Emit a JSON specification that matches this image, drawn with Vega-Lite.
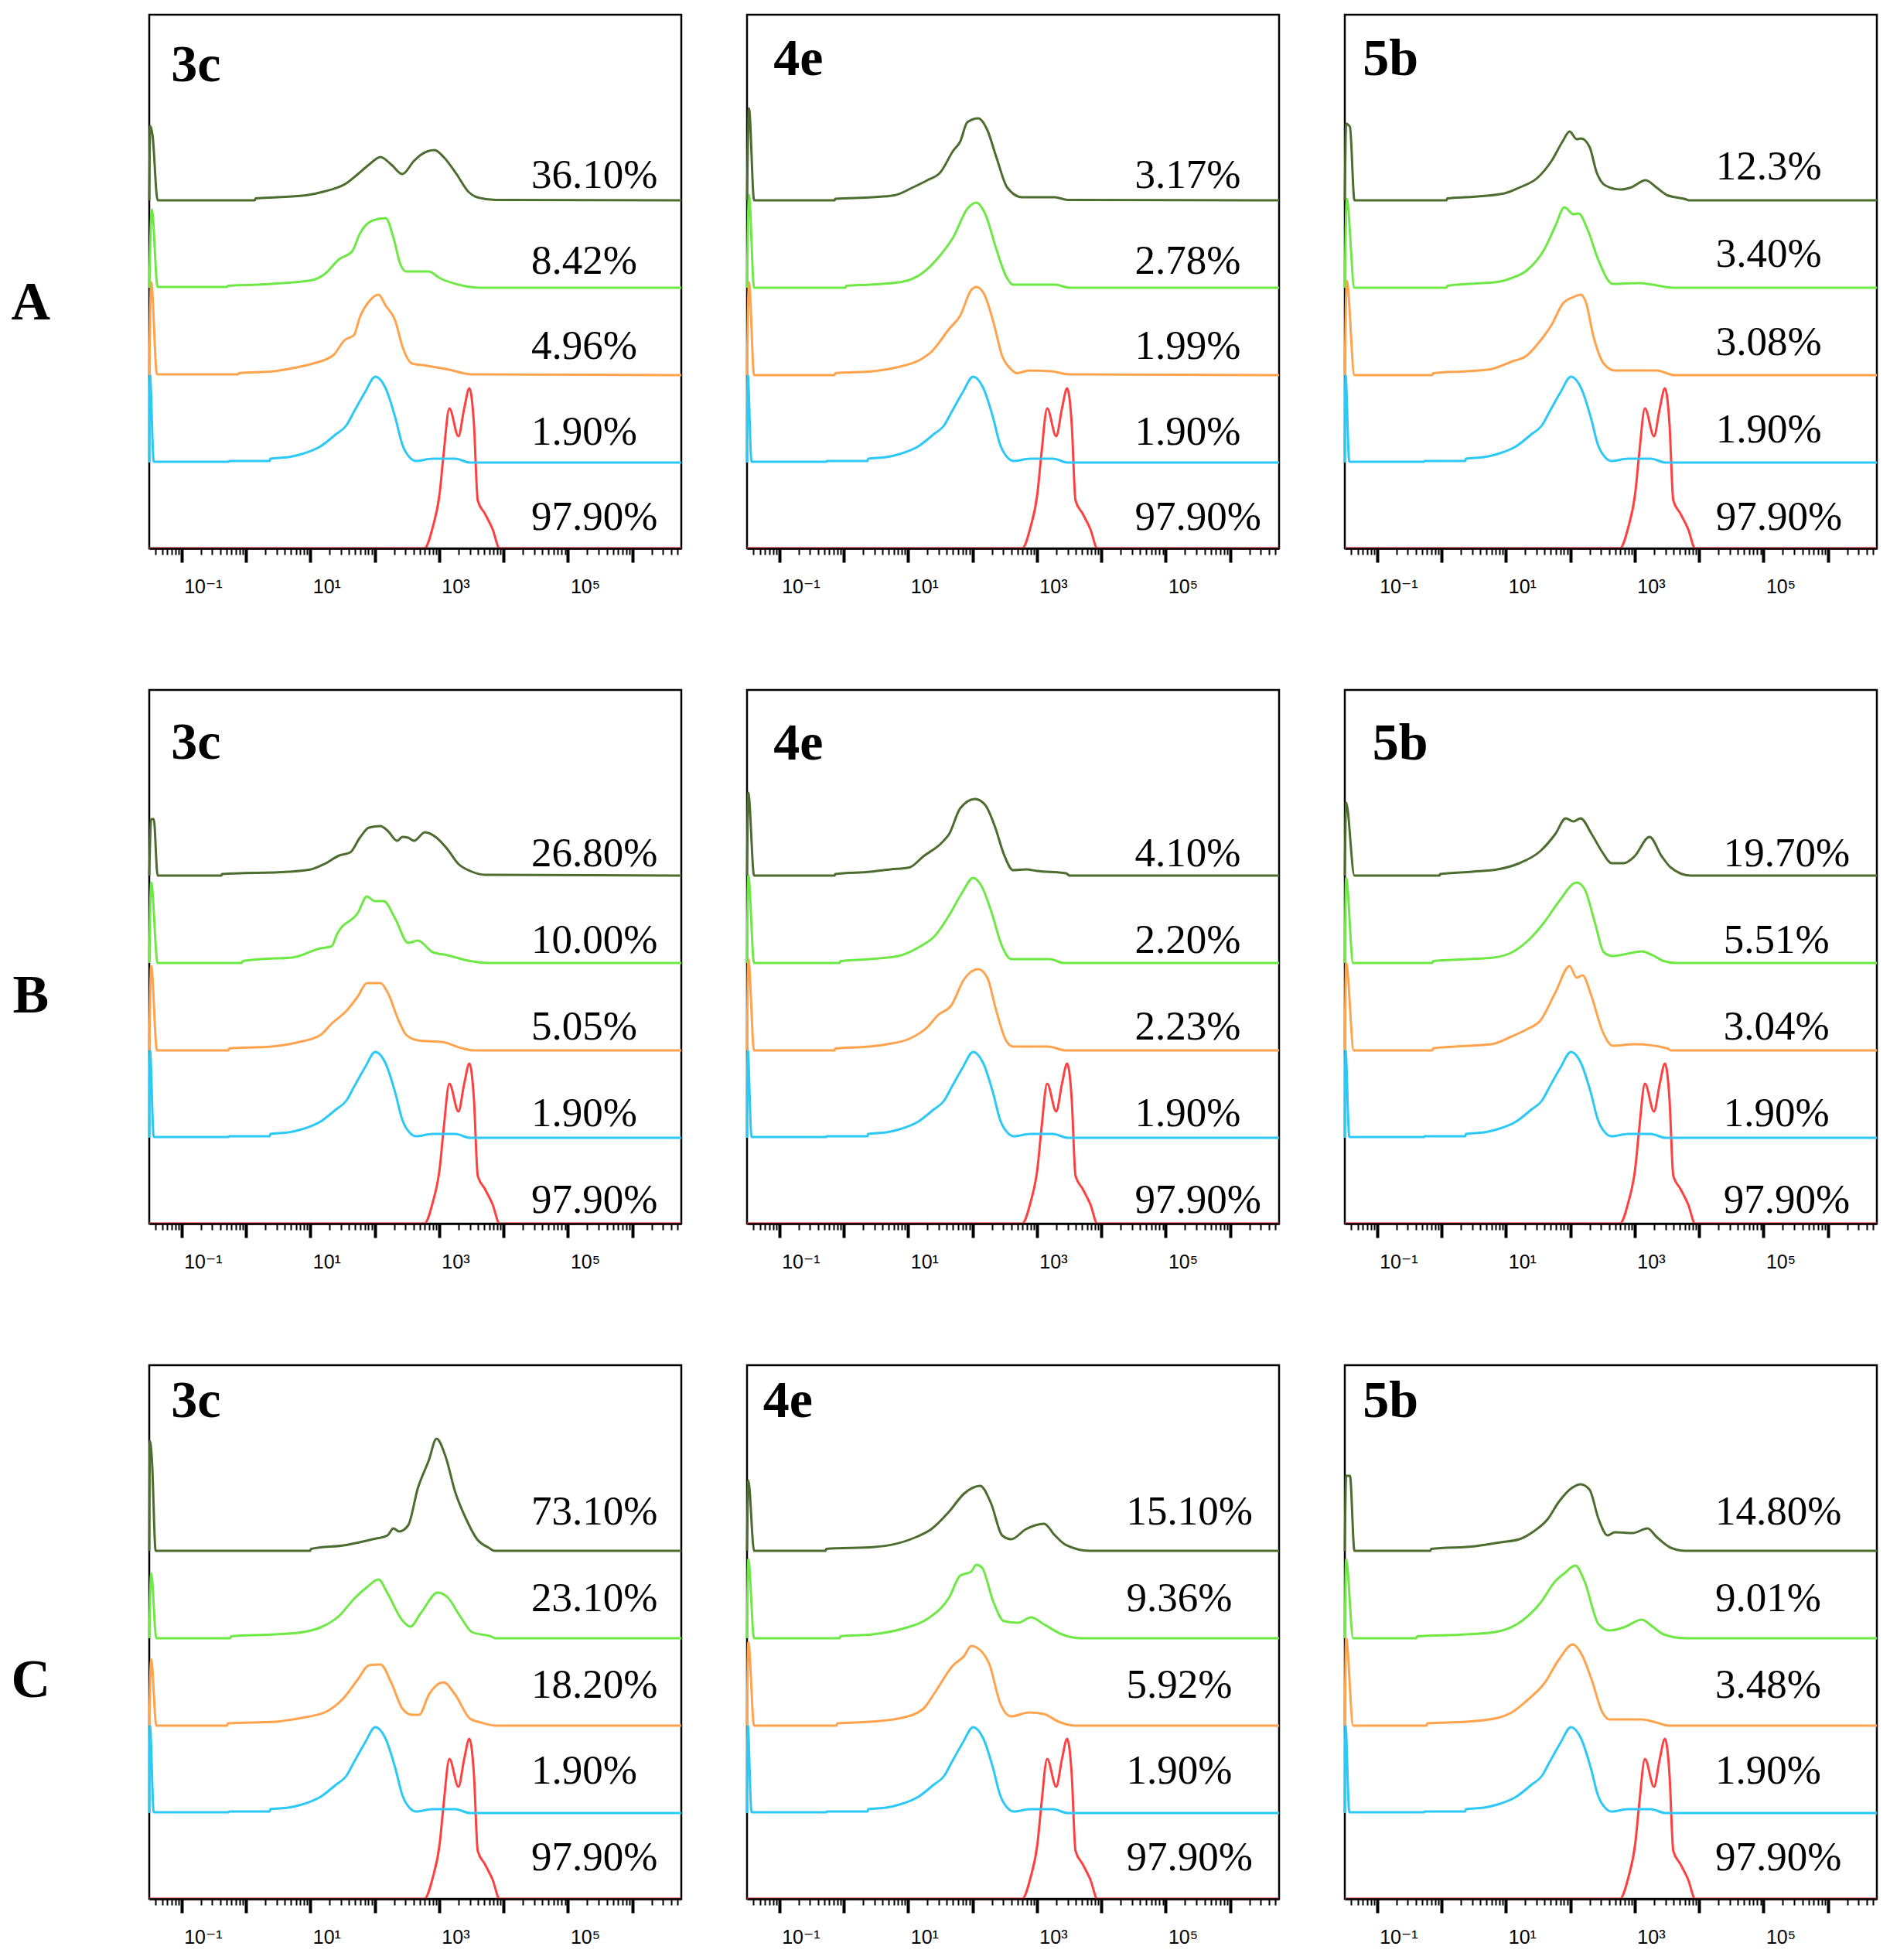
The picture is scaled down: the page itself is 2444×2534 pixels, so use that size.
{
"$schema":"https://vega.github.io/schema/vega-lite/v6.json",
"padding":{"left":13,"top":17,"right":10,"bottom":10},
"background":"white",
"config":{"view":{"stroke":"black","strokeWidth":2.5},"line":{"strokeWidth":3,"strokeJoin":"round","interpolate":"monotone"},"text":{"font":"Liberation Serif","color":"black"}},
"columns":3,
"spacing":{"row":183,"column":85},
"bounds":"flush",
"datasets":{
"control":[
{"series":"blue","logFL":-1.5,"count":0},{"series":"blue","logFL":-1.49,"count":114},{"series":"blue","logFL":-1.43,"count":1},{"series":"blue","logFL":-0.27,"count":1},{"series":"blue","logFL":-0.26,"count":2},{"series":"blue","logFL":0.37,"count":2},{"series":"blue","logFL":0.38,"count":5},{"series":"blue","logFL":0.66,"count":7},{"series":"blue","logFL":0.87,"count":11},{"series":"blue","logFL":1.16,"count":21},{"series":"blue","logFL":1.39,"count":36},{"series":"blue","logFL":1.56,"count":48},{"series":"blue","logFL":1.68,"count":66},{"series":"blue","logFL":1.85,"count":91},{"series":"blue","logFL":2.01,"count":111},{"series":"blue","logFL":2.17,"count":96},{"series":"blue","logFL":2.32,"count":58},{"series":"blue","logFL":2.43,"count":23},{"series":"blue","logFL":2.55,"count":6},{"series":"blue","logFL":2.64,"count":2},{"series":"blue","logFL":2.9,"count":5},{"series":"blue","logFL":3.25,"count":5},{"series":"blue","logFL":3.48,"count":0},{"series":"blue","logFL":6.76,"count":0},
{"series":"red","logFL":-1.5,"count":0},{"series":"red","logFL":2.77,"count":0},{"series":"red","logFL":2.9,"count":27},{"series":"red","logFL":3.01,"count":72},{"series":"red","logFL":3.07,"count":122},{"series":"red","logFL":3.16,"count":181},{"series":"red","logFL":3.3,"count":145},{"series":"red","logFL":3.39,"count":181},{"series":"red","logFL":3.47,"count":207},{"series":"red","logFL":3.54,"count":162},{"series":"red","logFL":3.6,"count":62},{"series":"red","logFL":3.71,"count":45},{"series":"red","logFL":3.83,"count":25},{"series":"red","logFL":3.94,"count":0},{"series":"red","logFL":6.76,"count":0}
],
"A3c":[
{"series":"dgreen","logFL":-1.5,"count":0},{"series":"dgreen","logFL":-1.485,"count":96},{"series":"dgreen","logFL":-1.45,"count":85},{"series":"dgreen","logFL":-1.37,"count":0},{"series":"dgreen","logFL":0.14,"count":0},{"series":"dgreen","logFL":0.15,"count":2.5},{"series":"dgreen","logFL":0.49,"count":4},{"series":"dgreen","logFL":0.93,"count":6.5},{"series":"dgreen","logFL":1.22,"count":11.5},{"series":"dgreen","logFL":1.56,"count":22},{"series":"dgreen","logFL":1.74,"count":34},{"series":"dgreen","logFL":1.91,"count":46},{"series":"dgreen","logFL":2.09,"count":56},{"series":"dgreen","logFL":2.26,"count":46},{"series":"dgreen","logFL":2.43,"count":34},{"series":"dgreen","logFL":2.61,"count":51},{"series":"dgreen","logFL":2.72,"count":59},{"series":"dgreen","logFL":2.93,"count":65},{"series":"dgreen","logFL":3.07,"count":56},{"series":"dgreen","logFL":3.27,"count":34},{"series":"dgreen","logFL":3.45,"count":11.5},{"series":"dgreen","logFL":3.59,"count":4},{"series":"dgreen","logFL":3.88,"count":0.5},{"series":"dgreen","logFL":6.76,"count":0},
{"series":"lgreen","logFL":-1.5,"count":0},{"series":"lgreen","logFL":-1.46,"count":101},{"series":"lgreen","logFL":-1.37,"count":1},{"series":"lgreen","logFL":-0.29,"count":1},{"series":"lgreen","logFL":-0.28,"count":2.5},{"series":"lgreen","logFL":0.17,"count":4},{"series":"lgreen","logFL":0.66,"count":6.5},{"series":"lgreen","logFL":1.04,"count":10},{"series":"lgreen","logFL":1.22,"count":17.5},{"series":"lgreen","logFL":1.45,"count":37},{"series":"lgreen","logFL":1.65,"count":47},{"series":"lgreen","logFL":1.77,"count":70},{"series":"lgreen","logFL":1.97,"count":87},{"series":"lgreen","logFL":2.17,"count":90},{"series":"lgreen","logFL":2.29,"count":65},{"series":"lgreen","logFL":2.4,"count":30},{"series":"lgreen","logFL":2.49,"count":21},{"series":"lgreen","logFL":2.84,"count":21},{"series":"lgreen","logFL":3.01,"count":12.5},{"series":"lgreen","logFL":3.3,"count":4},{"series":"lgreen","logFL":3.65,"count":0},{"series":"lgreen","logFL":6.76,"count":0},
{"series":"orange","logFL":-1.5,"count":0},{"series":"orange","logFL":-1.47,"count":120},{"series":"orange","logFL":-1.38,"count":1},{"series":"orange","logFL":-0.12,"count":1},{"series":"orange","logFL":-0.11,"count":2.5},{"series":"orange","logFL":0.43,"count":5},{"series":"orange","logFL":0.72,"count":9},{"series":"orange","logFL":1.04,"count":15},{"series":"orange","logFL":1.36,"count":26},{"series":"orange","logFL":1.53,"count":45},{"series":"orange","logFL":1.68,"count":52},{"series":"orange","logFL":1.77,"count":75},{"series":"orange","logFL":1.91,"count":95},{"series":"orange","logFL":2.06,"count":104},{"series":"orange","logFL":2.17,"count":90},{"series":"orange","logFL":2.32,"count":70},{"series":"orange","logFL":2.43,"count":37},{"series":"orange","logFL":2.58,"count":15},{"series":"orange","logFL":2.78,"count":12.5},{"series":"orange","logFL":3.13,"count":7.5},{"series":"orange","logFL":3.51,"count":1},{"series":"orange","logFL":6.76,"count":0}
],
"A4e":[
{"series":"dgreen","logFL":-1.5,"count":0},{"series":"dgreen","logFL":-1.47,"count":119},{"series":"dgreen","logFL":-1.39,"count":0},{"series":"dgreen","logFL":-0.14,"count":0},{"series":"dgreen","logFL":-0.13,"count":2},{"series":"dgreen","logFL":0.45,"count":4},{"series":"dgreen","logFL":0.79,"count":6.5},{"series":"dgreen","logFL":1.07,"count":16.5},{"series":"dgreen","logFL":1.3,"count":26},{"series":"dgreen","logFL":1.5,"count":36},{"series":"dgreen","logFL":1.7,"count":64},{"series":"dgreen","logFL":1.81,"count":76},{"series":"dgreen","logFL":1.92,"count":101},{"series":"dgreen","logFL":2.09,"count":106},{"series":"dgreen","logFL":2.23,"count":91},{"series":"dgreen","logFL":2.37,"count":56},{"series":"dgreen","logFL":2.54,"count":16.5},{"series":"dgreen","logFL":2.77,"count":4},{"series":"dgreen","logFL":3.28,"count":4},{"series":"dgreen","logFL":3.48,"count":0.5},{"series":"dgreen","logFL":6.76,"count":0},
{"series":"lgreen","logFL":-1.5,"count":0},{"series":"lgreen","logFL":-1.47,"count":120},{"series":"lgreen","logFL":-1.39,"count":0},{"series":"lgreen","logFL":0.03,"count":0},{"series":"lgreen","logFL":0.04,"count":2.5},{"series":"lgreen","logFL":0.4,"count":4},{"series":"lgreen","logFL":0.9,"count":7.5},{"series":"lgreen","logFL":1.24,"count":20},{"series":"lgreen","logFL":1.5,"count":42},{"series":"lgreen","logFL":1.7,"count":65},{"series":"lgreen","logFL":1.92,"count":102},{"series":"lgreen","logFL":2.06,"count":110},{"series":"lgreen","logFL":2.2,"count":95},{"series":"lgreen","logFL":2.37,"count":50},{"series":"lgreen","logFL":2.52,"count":15},{"series":"lgreen","logFL":2.63,"count":4},{"series":"lgreen","logFL":3.28,"count":4},{"series":"lgreen","logFL":3.51,"count":0},{"series":"lgreen","logFL":6.76,"count":0},
{"series":"orange","logFL":-1.5,"count":0},{"series":"orange","logFL":-1.47,"count":120},{"series":"orange","logFL":-1.39,"count":0},{"series":"orange","logFL":-0.14,"count":0},{"series":"orange","logFL":-0.13,"count":2.5},{"series":"orange","logFL":0.45,"count":5},{"series":"orange","logFL":0.82,"count":10},{"series":"orange","logFL":1.19,"count":20},{"series":"orange","logFL":1.36,"count":30},{"series":"orange","logFL":1.64,"count":60},{"series":"orange","logFL":1.81,"count":77},{"series":"orange","logFL":1.98,"count":110},{"series":"orange","logFL":2.06,"count":114},{"series":"orange","logFL":2.18,"count":105},{"series":"orange","logFL":2.32,"count":70},{"series":"orange","logFL":2.46,"count":25},{"series":"orange","logFL":2.6,"count":7.5},{"series":"orange","logFL":2.69,"count":2.5},{"series":"orange","logFL":2.88,"count":6},{"series":"orange","logFL":3.22,"count":5},{"series":"orange","logFL":3.51,"count":1},{"series":"orange","logFL":6.76,"count":0}
],
"A5b":[
{"series":"dgreen","logFL":-1.5,"count":0},{"series":"dgreen","logFL":-1.48,"count":99},{"series":"dgreen","logFL":-1.42,"count":95},{"series":"dgreen","logFL":-1.35,"count":0},{"series":"dgreen","logFL":0.08,"count":0},{"series":"dgreen","logFL":0.09,"count":2.5},{"series":"dgreen","logFL":0.48,"count":4.5},{"series":"dgreen","logFL":0.98,"count":9},{"series":"dgreen","logFL":1.21,"count":16.5},{"series":"dgreen","logFL":1.49,"count":29},{"series":"dgreen","logFL":1.71,"count":51},{"series":"dgreen","logFL":1.88,"count":76},{"series":"dgreen","logFL":1.99,"count":89},{"series":"dgreen","logFL":2.1,"count":79},{"series":"dgreen","logFL":2.17,"count":80},{"series":"dgreen","logFL":2.3,"count":69},{"series":"dgreen","logFL":2.41,"count":36},{"series":"dgreen","logFL":2.55,"count":19},{"series":"dgreen","logFL":2.78,"count":14},{"series":"dgreen","logFL":2.94,"count":16.5},{"series":"dgreen","logFL":3.17,"count":26},{"series":"dgreen","logFL":3.34,"count":16.5},{"series":"dgreen","logFL":3.51,"count":6.5},{"series":"dgreen","logFL":3.79,"count":1.5},{"series":"dgreen","logFL":3.84,"count":0},{"series":"dgreen","logFL":6.76,"count":0},
{"series":"lgreen","logFL":-1.5,"count":0},{"series":"lgreen","logFL":-1.47,"count":115},{"series":"lgreen","logFL":-1.35,"count":0},{"series":"lgreen","logFL":0.08,"count":0},{"series":"lgreen","logFL":0.09,"count":2.5},{"series":"lgreen","logFL":0.42,"count":5},{"series":"lgreen","logFL":0.87,"count":7.5},{"series":"lgreen","logFL":1.09,"count":12.5},{"series":"lgreen","logFL":1.32,"count":22},{"series":"lgreen","logFL":1.6,"count":50},{"series":"lgreen","logFL":1.77,"count":80},{"series":"lgreen","logFL":1.91,"count":104},{"series":"lgreen","logFL":2.05,"count":95},{"series":"lgreen","logFL":2.13,"count":96},{"series":"lgreen","logFL":2.27,"count":75},{"series":"lgreen","logFL":2.44,"count":35},{"series":"lgreen","logFL":2.66,"count":5},{"series":"lgreen","logFL":3.06,"count":6},{"series":"lgreen","logFL":3.28,"count":4},{"series":"lgreen","logFL":3.59,"count":0},{"series":"lgreen","logFL":6.76,"count":0},
{"series":"orange","logFL":-1.5,"count":0},{"series":"orange","logFL":-1.47,"count":122},{"series":"orange","logFL":-1.35,"count":0},{"series":"orange","logFL":-0.14,"count":0},{"series":"orange","logFL":-0.13,"count":2.5},{"series":"orange","logFL":0.39,"count":5},{"series":"orange","logFL":0.76,"count":7.5},{"series":"orange","logFL":1.09,"count":17.5},{"series":"orange","logFL":1.32,"count":25},{"series":"orange","logFL":1.54,"count":45},{"series":"orange","logFL":1.71,"count":65},{"series":"orange","logFL":1.88,"count":92},{"series":"orange","logFL":2.05,"count":101},{"series":"orange","logFL":2.16,"count":104},{"series":"orange","logFL":2.24,"count":95},{"series":"orange","logFL":2.36,"count":50},{"series":"orange","logFL":2.52,"count":15},{"series":"orange","logFL":2.69,"count":6},{"series":"orange","logFL":3.34,"count":6},{"series":"orange","logFL":3.62,"count":0},{"series":"orange","logFL":6.76,"count":0}
],
"B3c":[
{"series":"dgreen","logFL":-1.5,"count":0},{"series":"dgreen","logFL":-1.47,"count":73},{"series":"dgreen","logFL":-1.43,"count":73},{"series":"dgreen","logFL":-1.37,"count":0},{"series":"dgreen","logFL":-0.38,"count":0},{"series":"dgreen","logFL":-0.37,"count":2},{"series":"dgreen","logFL":0.66,"count":5},{"series":"dgreen","logFL":1.01,"count":8},{"series":"dgreen","logFL":1.22,"count":15},{"series":"dgreen","logFL":1.45,"count":26},{"series":"dgreen","logFL":1.62,"count":30},{"series":"dgreen","logFL":1.77,"count":49},{"series":"dgreen","logFL":1.91,"count":62},{"series":"dgreen","logFL":2.09,"count":64},{"series":"dgreen","logFL":2.2,"count":58},{"series":"dgreen","logFL":2.35,"count":45},{"series":"dgreen","logFL":2.43,"count":50},{"series":"dgreen","logFL":2.52,"count":49},{"series":"dgreen","logFL":2.61,"count":45},{"series":"dgreen","logFL":2.78,"count":56},{"series":"dgreen","logFL":2.96,"count":49},{"series":"dgreen","logFL":3.13,"count":34},{"series":"dgreen","logFL":3.3,"count":15},{"series":"dgreen","logFL":3.48,"count":6},{"series":"dgreen","logFL":3.71,"count":1},{"series":"dgreen","logFL":6.76,"count":0},
{"series":"lgreen","logFL":-1.5,"count":0},{"series":"lgreen","logFL":-1.47,"count":104},{"series":"lgreen","logFL":-1.37,"count":0},{"series":"lgreen","logFL":-0.06,"count":0},{"series":"lgreen","logFL":-0.05,"count":2.5},{"series":"lgreen","logFL":0.23,"count":5},{"series":"lgreen","logFL":0.72,"count":7},{"series":"lgreen","logFL":1.16,"count":19},{"series":"lgreen","logFL":1.33,"count":21.5},{"series":"lgreen","logFL":1.42,"count":38},{"series":"lgreen","logFL":1.74,"count":65},{"series":"lgreen","logFL":1.88,"count":86},{"series":"lgreen","logFL":2.0,"count":80},{"series":"lgreen","logFL":2.14,"count":80},{"series":"lgreen","logFL":2.32,"count":57},{"series":"lgreen","logFL":2.52,"count":26},{"series":"lgreen","logFL":2.67,"count":29},{"series":"lgreen","logFL":2.9,"count":14},{"series":"lgreen","logFL":3.13,"count":10},{"series":"lgreen","logFL":3.48,"count":2.5},{"series":"lgreen","logFL":3.77,"count":0},{"series":"lgreen","logFL":6.76,"count":0},
{"series":"orange","logFL":-1.5,"count":0},{"series":"orange","logFL":-1.47,"count":109},{"series":"orange","logFL":-1.38,"count":0},{"series":"orange","logFL":-0.27,"count":0},{"series":"orange","logFL":-0.26,"count":2.5},{"series":"orange","logFL":0.4,"count":5},{"series":"orange","logFL":0.81,"count":10.5},{"series":"orange","logFL":1.16,"count":20},{"series":"orange","logFL":1.33,"count":34.5},{"series":"orange","logFL":1.56,"count":51},{"series":"orange","logFL":1.74,"count":70},{"series":"orange","logFL":1.88,"count":87},{"series":"orange","logFL":2.09,"count":87},{"series":"orange","logFL":2.2,"count":75},{"series":"orange","logFL":2.38,"count":37},{"series":"orange","logFL":2.49,"count":20},{"series":"orange","logFL":2.67,"count":13},{"series":"orange","logFL":3.07,"count":10.5},{"series":"orange","logFL":3.33,"count":3.4},{"series":"orange","logFL":3.54,"count":0},{"series":"orange","logFL":6.76,"count":0}
],
"B4e":[
{"series":"dgreen","logFL":-1.5,"count":0},{"series":"dgreen","logFL":-1.48,"count":107},{"series":"dgreen","logFL":-1.39,"count":0},{"series":"dgreen","logFL":-0.14,"count":0},{"series":"dgreen","logFL":-0.13,"count":2},{"series":"dgreen","logFL":0.42,"count":5},{"series":"dgreen","logFL":0.73,"count":8},{"series":"dgreen","logFL":1.02,"count":10.5},{"series":"dgreen","logFL":1.24,"count":25},{"series":"dgreen","logFL":1.53,"count":43},{"series":"dgreen","logFL":1.64,"count":54},{"series":"dgreen","logFL":1.81,"count":87},{"series":"dgreen","logFL":2.04,"count":99},{"series":"dgreen","logFL":2.2,"count":91},{"series":"dgreen","logFL":2.35,"count":63},{"series":"dgreen","logFL":2.49,"count":27},{"series":"dgreen","logFL":2.63,"count":7},{"series":"dgreen","logFL":2.83,"count":8},{"series":"dgreen","logFL":3.0,"count":6},{"series":"dgreen","logFL":3.45,"count":3},{"series":"dgreen","logFL":3.51,"count":0},{"series":"dgreen","logFL":6.76,"count":0},
{"series":"lgreen","logFL":-1.5,"count":0},{"series":"lgreen","logFL":-1.48,"count":113},{"series":"lgreen","logFL":-1.39,"count":0},{"series":"lgreen","logFL":-0.06,"count":0},{"series":"lgreen","logFL":-0.05,"count":2.5},{"series":"lgreen","logFL":0.4,"count":5},{"series":"lgreen","logFL":0.85,"count":9},{"series":"lgreen","logFL":1.19,"count":21.5},{"series":"lgreen","logFL":1.41,"count":34.5},{"series":"lgreen","logFL":1.64,"count":62},{"series":"lgreen","logFL":1.84,"count":91},{"series":"lgreen","logFL":2.01,"count":110},{"series":"lgreen","logFL":2.15,"count":98},{"series":"lgreen","logFL":2.29,"count":67},{"series":"lgreen","logFL":2.46,"count":21.5},{"series":"lgreen","logFL":2.6,"count":5},{"series":"lgreen","logFL":3.2,"count":5},{"series":"lgreen","logFL":3.42,"count":0},{"series":"lgreen","logFL":6.76,"count":0},
{"series":"orange","logFL":-1.5,"count":0},{"series":"orange","logFL":-1.48,"count":118},{"series":"orange","logFL":-1.39,"count":0},{"series":"orange","logFL":-0.14,"count":0},{"series":"orange","logFL":-0.13,"count":2.5},{"series":"orange","logFL":0.4,"count":5},{"series":"orange","logFL":0.68,"count":8},{"series":"orange","logFL":1.02,"count":15},{"series":"orange","logFL":1.3,"count":30},{"series":"orange","logFL":1.47,"count":46},{"series":"orange","logFL":1.67,"count":58},{"series":"orange","logFL":1.87,"count":92},{"series":"orange","logFL":2.09,"count":105},{"series":"orange","logFL":2.23,"count":94},{"series":"orange","logFL":2.37,"count":51},{"series":"orange","logFL":2.52,"count":13},{"series":"orange","logFL":2.63,"count":5},{"series":"orange","logFL":3.17,"count":5},{"series":"orange","logFL":3.45,"count":0},{"series":"orange","logFL":6.76,"count":0}
],
"B5b":[
{"series":"dgreen","logFL":-1.5,"count":0},{"series":"dgreen","logFL":-1.48,"count":94},{"series":"dgreen","logFL":-1.35,"count":0},{"series":"dgreen","logFL":-0.03,"count":0},{"series":"dgreen","logFL":-0.02,"count":2},{"series":"dgreen","logFL":0.48,"count":5},{"series":"dgreen","logFL":0.87,"count":8},{"series":"dgreen","logFL":1.21,"count":16},{"series":"dgreen","logFL":1.54,"count":32},{"series":"dgreen","logFL":1.77,"count":54},{"series":"dgreen","logFL":1.93,"count":74},{"series":"dgreen","logFL":2.05,"count":70},{"series":"dgreen","logFL":2.16,"count":74},{"series":"dgreen","logFL":2.33,"count":54},{"series":"dgreen","logFL":2.5,"count":30},{"series":"dgreen","logFL":2.64,"count":16},{"series":"dgreen","logFL":2.83,"count":16},{"series":"dgreen","logFL":3.0,"count":25},{"series":"dgreen","logFL":3.23,"count":50},{"series":"dgreen","logFL":3.42,"count":25},{"series":"dgreen","logFL":3.56,"count":10.5},{"series":"dgreen","logFL":3.87,"count":0},{"series":"dgreen","logFL":6.76,"count":0},
{"series":"lgreen","logFL":-1.5,"count":0},{"series":"lgreen","logFL":-1.48,"count":110},{"series":"lgreen","logFL":-1.37,"count":0},{"series":"lgreen","logFL":-0.14,"count":0},{"series":"lgreen","logFL":-0.13,"count":2.5},{"series":"lgreen","logFL":0.42,"count":5},{"series":"lgreen","logFL":0.81,"count":7},{"series":"lgreen","logFL":1.09,"count":13.5},{"series":"lgreen","logFL":1.37,"count":31},{"series":"lgreen","logFL":1.6,"count":53},{"series":"lgreen","logFL":1.82,"count":79},{"series":"lgreen","logFL":2.1,"count":104},{"series":"lgreen","logFL":2.22,"count":96},{"series":"lgreen","logFL":2.38,"count":53},{"series":"lgreen","logFL":2.52,"count":14},{"series":"lgreen","logFL":2.66,"count":9},{"series":"lgreen","logFL":2.89,"count":12},{"series":"lgreen","logFL":3.11,"count":15},{"series":"lgreen","logFL":3.28,"count":10},{"series":"lgreen","logFL":3.45,"count":2.5},{"series":"lgreen","logFL":3.65,"count":0},{"series":"lgreen","logFL":6.76,"count":0},
{"series":"orange","logFL":-1.5,"count":0},{"series":"orange","logFL":-1.48,"count":113},{"series":"orange","logFL":-1.36,"count":0},{"series":"orange","logFL":-0.14,"count":0},{"series":"orange","logFL":-0.13,"count":2.5},{"series":"orange","logFL":0.22,"count":5},{"series":"orange","logFL":0.78,"count":8},{"series":"orange","logFL":1.09,"count":18},{"series":"orange","logFL":1.32,"count":27},{"series":"orange","logFL":1.54,"count":39},{"series":"orange","logFL":1.77,"count":75},{"series":"orange","logFL":1.99,"count":109},{"series":"orange","logFL":2.1,"count":94},{"series":"orange","logFL":2.19,"count":97},{"series":"orange","logFL":2.33,"count":70},{"series":"orange","logFL":2.5,"count":25},{"series":"orange","logFL":2.66,"count":6},{"series":"orange","logFL":3.0,"count":8},{"series":"orange","logFL":3.51,"count":2.5},{"series":"orange","logFL":3.56,"count":0},{"series":"orange","logFL":6.76,"count":0}
],
"C3c":[
{"series":"dgreen","logFL":-1.5,"count":0},{"series":"dgreen","logFL":-1.49,"count":142},{"series":"dgreen","logFL":-1.46,"count":120},{"series":"dgreen","logFL":-1.4,"count":0},{"series":"dgreen","logFL":1.0,"count":0},{"series":"dgreen","logFL":1.01,"count":2.5},{"series":"dgreen","logFL":1.56,"count":7.6},{"series":"dgreen","logFL":1.97,"count":15},{"series":"dgreen","logFL":2.2,"count":20},{"series":"dgreen","logFL":2.29,"count":29},{"series":"dgreen","logFL":2.38,"count":25},{"series":"dgreen","logFL":2.52,"count":33},{"series":"dgreen","logFL":2.67,"count":81},{"series":"dgreen","logFL":2.84,"count":117},{"series":"dgreen","logFL":2.96,"count":145},{"series":"dgreen","logFL":3.1,"count":122},{"series":"dgreen","logFL":3.25,"count":76},{"series":"dgreen","logFL":3.42,"count":41},{"series":"dgreen","logFL":3.59,"count":15},{"series":"dgreen","logFL":3.77,"count":4},{"series":"dgreen","logFL":3.86,"count":0},{"series":"dgreen","logFL":6.76,"count":0},
{"series":"lgreen","logFL":-1.5,"count":0},{"series":"lgreen","logFL":-1.47,"count":84},{"series":"lgreen","logFL":-1.39,"count":0},{"series":"lgreen","logFL":-0.24,"count":0},{"series":"lgreen","logFL":-0.23,"count":2.5},{"series":"lgreen","logFL":0.46,"count":5},{"series":"lgreen","logFL":0.93,"count":8.6},{"series":"lgreen","logFL":1.16,"count":14},{"series":"lgreen","logFL":1.45,"count":29},{"series":"lgreen","logFL":1.68,"count":51},{"series":"lgreen","logFL":1.88,"count":66},{"series":"lgreen","logFL":2.06,"count":76},{"series":"lgreen","logFL":2.2,"count":58},{"series":"lgreen","logFL":2.43,"count":23},{"series":"lgreen","logFL":2.55,"count":15},{"series":"lgreen","logFL":2.72,"count":33},{"series":"lgreen","logFL":2.98,"count":59},{"series":"lgreen","logFL":3.13,"count":53},{"series":"lgreen","logFL":3.33,"count":28},{"series":"lgreen","logFL":3.51,"count":8},{"series":"lgreen","logFL":3.83,"count":1.5},{"series":"lgreen","logFL":3.86,"count":0},{"series":"lgreen","logFL":6.76,"count":0},
{"series":"orange","logFL":-1.5,"count":0},{"series":"orange","logFL":-1.47,"count":86},{"series":"orange","logFL":-1.39,"count":0},{"series":"orange","logFL":-0.29,"count":0},{"series":"orange","logFL":-0.28,"count":3},{"series":"orange","logFL":0.46,"count":5},{"series":"orange","logFL":0.69,"count":7.6},{"series":"orange","logFL":0.98,"count":11.7},{"series":"orange","logFL":1.27,"count":19},{"series":"orange","logFL":1.51,"count":35},{"series":"orange","logFL":1.74,"count":60},{"series":"orange","logFL":1.91,"count":78},{"series":"orange","logFL":2.09,"count":79},{"series":"orange","logFL":2.26,"count":55},{"series":"orange","logFL":2.43,"count":22},{"series":"orange","logFL":2.58,"count":14},{"series":"orange","logFL":2.69,"count":14},{"series":"orange","logFL":2.84,"count":40},{"series":"orange","logFL":3.07,"count":56},{"series":"orange","logFL":3.25,"count":40},{"series":"orange","logFL":3.48,"count":9},{"series":"orange","logFL":3.65,"count":4},{"series":"orange","logFL":3.88,"count":0},{"series":"orange","logFL":6.76,"count":0}
],
"C4e":[
{"series":"dgreen","logFL":-1.5,"count":0},{"series":"dgreen","logFL":-1.48,"count":91},{"series":"dgreen","logFL":-1.39,"count":0},{"series":"dgreen","logFL":-0.28,"count":0},{"series":"dgreen","logFL":-0.27,"count":2.5},{"series":"dgreen","logFL":0.48,"count":5},{"series":"dgreen","logFL":0.73,"count":7.6},{"series":"dgreen","logFL":1.13,"count":18},{"series":"dgreen","logFL":1.36,"count":28},{"series":"dgreen","logFL":1.64,"count":51},{"series":"dgreen","logFL":1.87,"count":74},{"series":"dgreen","logFL":2.12,"count":84},{"series":"dgreen","logFL":2.29,"count":61},{"series":"dgreen","logFL":2.46,"count":20},{"series":"dgreen","logFL":2.6,"count":15},{"series":"dgreen","logFL":2.83,"count":28},{"series":"dgreen","logFL":3.11,"count":35},{"series":"dgreen","logFL":3.28,"count":20},{"series":"dgreen","logFL":3.45,"count":7.6},{"series":"dgreen","logFL":3.82,"count":0},{"series":"dgreen","logFL":6.76,"count":0},
{"series":"lgreen","logFL":-1.5,"count":0},{"series":"lgreen","logFL":-1.48,"count":102},{"series":"lgreen","logFL":-1.39,"count":0},{"series":"lgreen","logFL":-0.06,"count":0},{"series":"lgreen","logFL":-0.05,"count":2.5},{"series":"lgreen","logFL":0.45,"count":5},{"series":"lgreen","logFL":0.9,"count":12},{"series":"lgreen","logFL":1.3,"count":25},{"series":"lgreen","logFL":1.64,"count":53},{"series":"lgreen","logFL":1.81,"count":81},{"series":"lgreen","logFL":1.98,"count":86},{"series":"lgreen","logFL":2.06,"count":95},{"series":"lgreen","logFL":2.15,"count":91},{"series":"lgreen","logFL":2.32,"count":48},{"series":"lgreen","logFL":2.49,"count":22},{"series":"lgreen","logFL":2.71,"count":20},{"series":"lgreen","logFL":2.91,"count":27},{"series":"lgreen","logFL":3.11,"count":18},{"series":"lgreen","logFL":3.39,"count":5},{"series":"lgreen","logFL":3.68,"count":0},{"series":"lgreen","logFL":6.76,"count":0},
{"series":"orange","logFL":-1.5,"count":0},{"series":"orange","logFL":-1.48,"count":108},{"series":"orange","logFL":-1.39,"count":0},{"series":"orange","logFL":-0.11,"count":0},{"series":"orange","logFL":-0.1,"count":3},{"series":"orange","logFL":0.4,"count":5},{"series":"orange","logFL":0.9,"count":10},{"series":"orange","logFL":1.24,"count":22},{"series":"orange","logFL":1.41,"count":42},{"series":"orange","logFL":1.7,"count":78},{"series":"orange","logFL":1.87,"count":90},{"series":"orange","logFL":1.98,"count":103},{"series":"orange","logFL":2.15,"count":95},{"series":"orange","logFL":2.26,"count":80},{"series":"orange","logFL":2.43,"count":29},{"series":"orange","logFL":2.6,"count":12},{"series":"orange","logFL":2.88,"count":17},{"series":"orange","logFL":3.11,"count":15},{"series":"orange","logFL":3.34,"count":5},{"series":"orange","logFL":3.59,"count":0},{"series":"orange","logFL":6.76,"count":0}
],
"C5b":[
{"series":"dgreen","logFL":-1.5,"count":0},{"series":"dgreen","logFL":-1.48,"count":97},{"series":"dgreen","logFL":-1.42,"count":97},{"series":"dgreen","logFL":-1.35,"count":0},{"series":"dgreen","logFL":-0.17,"count":0},{"series":"dgreen","logFL":-0.16,"count":2.5},{"series":"dgreen","logFL":0.53,"count":6},{"series":"dgreen","logFL":0.92,"count":11},{"series":"dgreen","logFL":1.21,"count":15},{"series":"dgreen","logFL":1.43,"count":25},{"series":"dgreen","logFL":1.65,"count":41},{"series":"dgreen","logFL":1.82,"count":63},{"series":"dgreen","logFL":2.02,"count":81},{"series":"dgreen","logFL":2.16,"count":86},{"series":"dgreen","logFL":2.3,"count":79},{"series":"dgreen","logFL":2.44,"count":41},{"series":"dgreen","logFL":2.58,"count":20},{"series":"dgreen","logFL":2.69,"count":24},{"series":"dgreen","logFL":2.97,"count":23},{"series":"dgreen","logFL":3.2,"count":29},{"series":"dgreen","logFL":3.34,"count":18},{"series":"dgreen","logFL":3.56,"count":4},{"series":"dgreen","logFL":3.79,"count":0},{"series":"dgreen","logFL":6.76,"count":0},
{"series":"lgreen","logFL":-1.5,"count":0},{"series":"lgreen","logFL":-1.48,"count":102},{"series":"lgreen","logFL":-1.37,"count":0},{"series":"lgreen","logFL":-0.39,"count":0},{"series":"lgreen","logFL":-0.38,"count":2.5},{"series":"lgreen","logFL":0.39,"count":5},{"series":"lgreen","logFL":0.87,"count":8.6},{"series":"lgreen","logFL":1.26,"count":23},{"series":"lgreen","logFL":1.54,"count":46},{"series":"lgreen","logFL":1.77,"count":74},{"series":"lgreen","logFL":1.91,"count":84},{"series":"lgreen","logFL":2.08,"count":94},{"series":"lgreen","logFL":2.22,"count":74},{"series":"lgreen","logFL":2.44,"count":18},{"series":"lgreen","logFL":2.61,"count":10},{"series":"lgreen","logFL":2.83,"count":14},{"series":"lgreen","logFL":3.11,"count":24},{"series":"lgreen","logFL":3.28,"count":15},{"series":"lgreen","logFL":3.45,"count":5},{"series":"lgreen","logFL":3.79,"count":0},{"series":"lgreen","logFL":6.76,"count":0},
{"series":"orange","logFL":-1.5,"count":0},{"series":"orange","logFL":-1.48,"count":113},{"series":"orange","logFL":-1.37,"count":0},{"series":"orange","logFL":-0.23,"count":0},{"series":"orange","logFL":-0.22,"count":3},{"series":"orange","logFL":0.39,"count":5},{"series":"orange","logFL":0.87,"count":10},{"series":"orange","logFL":1.09,"count":17},{"series":"orange","logFL":1.32,"count":32},{"series":"orange","logFL":1.6,"count":55},{"series":"orange","logFL":1.82,"count":85},{"series":"orange","logFL":2.04,"count":105},{"series":"orange","logFL":2.19,"count":90},{"series":"orange","logFL":2.33,"count":60},{"series":"orange","logFL":2.5,"count":17},{"series":"orange","logFL":2.61,"count":8},{"series":"orange","logFL":3.11,"count":8},{"series":"orange","logFL":3.34,"count":4},{"series":"orange","logFL":3.53,"count":0},{"series":"orange","logFL":6.76,"count":0}
],
"labels":[
{"panel":"A3c","row":"A","cmpd":"3c","series":"dgreen","pct":"36.10%"},{"panel":"A3c","row":"A","cmpd":"3c","series":"lgreen","pct":"8.42%"},{"panel":"A3c","row":"A","cmpd":"3c","series":"orange","pct":"4.96%"},{"panel":"A3c","row":"A","cmpd":"3c","series":"blue","pct":"1.90%"},{"panel":"A3c","row":"A","cmpd":"3c","series":"red","pct":"97.90%"},
{"panel":"A4e","row":"A","cmpd":"4e","series":"dgreen","pct":"3.17%"},{"panel":"A4e","row":"A","cmpd":"4e","series":"lgreen","pct":"2.78%"},{"panel":"A4e","row":"A","cmpd":"4e","series":"orange","pct":"1.99%"},{"panel":"A4e","row":"A","cmpd":"4e","series":"blue","pct":"1.90%"},{"panel":"A4e","row":"A","cmpd":"4e","series":"red","pct":"97.90%"},
{"panel":"A5b","row":"A","cmpd":"5b","series":"dgreen","pct":"12.3%"},{"panel":"A5b","row":"A","cmpd":"5b","series":"lgreen","pct":"3.40%"},{"panel":"A5b","row":"A","cmpd":"5b","series":"orange","pct":"3.08%"},{"panel":"A5b","row":"A","cmpd":"5b","series":"blue","pct":"1.90%"},{"panel":"A5b","row":"A","cmpd":"5b","series":"red","pct":"97.90%"},
{"panel":"B3c","row":"B","cmpd":"3c","series":"dgreen","pct":"26.80%"},{"panel":"B3c","row":"B","cmpd":"3c","series":"lgreen","pct":"10.00%"},{"panel":"B3c","row":"B","cmpd":"3c","series":"orange","pct":"5.05%"},{"panel":"B3c","row":"B","cmpd":"3c","series":"blue","pct":"1.90%"},{"panel":"B3c","row":"B","cmpd":"3c","series":"red","pct":"97.90%"},
{"panel":"B4e","row":"B","cmpd":"4e","series":"dgreen","pct":"4.10%"},{"panel":"B4e","row":"B","cmpd":"4e","series":"lgreen","pct":"2.20%"},{"panel":"B4e","row":"B","cmpd":"4e","series":"orange","pct":"2.23%"},{"panel":"B4e","row":"B","cmpd":"4e","series":"blue","pct":"1.90%"},{"panel":"B4e","row":"B","cmpd":"4e","series":"red","pct":"97.90%"},
{"panel":"B5b","row":"B","cmpd":"5b","series":"dgreen","pct":"19.70%"},{"panel":"B5b","row":"B","cmpd":"5b","series":"lgreen","pct":"5.51%"},{"panel":"B5b","row":"B","cmpd":"5b","series":"orange","pct":"3.04%"},{"panel":"B5b","row":"B","cmpd":"5b","series":"blue","pct":"1.90%"},{"panel":"B5b","row":"B","cmpd":"5b","series":"red","pct":"97.90%"},
{"panel":"C3c","row":"C","cmpd":"3c","series":"dgreen","pct":"73.10%"},{"panel":"C3c","row":"C","cmpd":"3c","series":"lgreen","pct":"23.10%"},{"panel":"C3c","row":"C","cmpd":"3c","series":"orange","pct":"18.20%"},{"panel":"C3c","row":"C","cmpd":"3c","series":"blue","pct":"1.90%"},{"panel":"C3c","row":"C","cmpd":"3c","series":"red","pct":"97.90%"},
{"panel":"C4e","row":"C","cmpd":"4e","series":"dgreen","pct":"15.10%"},{"panel":"C4e","row":"C","cmpd":"4e","series":"lgreen","pct":"9.36%"},{"panel":"C4e","row":"C","cmpd":"4e","series":"orange","pct":"5.92%"},{"panel":"C4e","row":"C","cmpd":"4e","series":"blue","pct":"1.90%"},{"panel":"C4e","row":"C","cmpd":"4e","series":"red","pct":"97.90%"},
{"panel":"C5b","row":"C","cmpd":"5b","series":"dgreen","pct":"14.80%"},{"panel":"C5b","row":"C","cmpd":"5b","series":"lgreen","pct":"9.01%"},{"panel":"C5b","row":"C","cmpd":"5b","series":"orange","pct":"3.48%"},{"panel":"C5b","row":"C","cmpd":"5b","series":"blue","pct":"1.90%"},{"panel":"C5b","row":"C","cmpd":"5b","series":"red","pct":"97.90%"}
]
},
"concat":[
{"width":688,"height":690,"resolve":{"scale":{"y":"independent"},"axis":{"x":"independent"}},"layer":[
{"data":{"name":"control"},"transform":[{"filter":"datum.series=='red'"}],"mark":{"type":"line","color":"#ff4040"},"encoding":{"x":{"field":"logFL","type":"quantitative","scale":{"domain":[-1.5,6.76],"nice":false,"zero":false},"axis":{"title":null,"orient":"bottom","zindex":1,"grid":false,"labels":false,"domainColor":"black","domainWidth":2.5,"tickColor":"black","tickSize":8,"tickWidth":2,"values":[-1.398,-1.301,-1.222,-1.155,-1.097,-1.046,-0.699,-0.523,-0.398,-0.301,-0.222,-0.155,-0.097,-0.046,0.301,0.477,0.602,0.699,0.778,0.845,0.903,0.954,1.301,1.477,1.602,1.699,1.778,1.845,1.903,1.954,2.301,2.477,2.602,2.699,2.778,2.845,2.903,2.954,3.301,3.477,3.602,3.699,3.778,3.845,3.903,3.954,4.301,4.477,4.602,4.699,4.778,4.845,4.903,4.954,5.301,5.477,5.602,5.699,5.778,5.845,5.903,5.954,6.301,6.477,6.602,6.699]}},"y":{"field":"count","type":"quantitative","scale":{"domain":[0,690],"nice":false,"zero":false},"axis":null}}},
{"data":{"name":"control"},"transform":[{"filter":"datum.series=='blue'"}],"mark":{"type":"line","color":"#2cc8f6"},"encoding":{"x":{"field":"logFL","type":"quantitative","axis":{"title":null,"orient":"bottom","zindex":1,"grid":false,"domain":false,"tickColor":"black","tickSize":18,"tickWidth":4,"values":[-1,0,1,2,3,4,5,6],"labelExpr":"datum.value==-1?'10⁻¹':datum.value==1?'10¹':datum.value==3?'10³':datum.value==5?'10⁵':''","labelFont":"Liberation Sans Narrow, Liberation Sans, DejaVu Sans","labelFontSize":25,"labelColor":"black","labelAlign":"left","labelBaseline":"alphabetic","labelPadding":39,"labelOffset":3,"labelOverlap":false,"labelFlush":false,"labelBound":false}},"y":{"field":"count","type":"quantitative","scale":{"domain":[-111,579],"nice":false,"zero":false},"axis":null}}},
{"data":{"name":"A3c"},"transform":[{"filter":"datum.series=='orange'"}],"mark":{"type":"line","color":"#ffa34d"},"encoding":{"x":{"field":"logFL","type":"quantitative","axis":null},"y":{"field":"count","type":"quantitative","scale":{"domain":[-224,466],"nice":false,"zero":false},"axis":null}}},
{"data":{"name":"A3c"},"transform":[{"filter":"datum.series=='lgreen'"}],"mark":{"type":"line","color":"#6ee845"},"encoding":{"x":{"field":"logFL","type":"quantitative","axis":null},"y":{"field":"count","type":"quantitative","scale":{"domain":[-337,353],"nice":false,"zero":false},"axis":null}}},
{"data":{"name":"A3c"},"transform":[{"filter":"datum.series=='dgreen'"}],"mark":{"type":"line","color":"#4d6c2f"},"encoding":{"x":{"field":"logFL","type":"quantitative","axis":null},"y":{"field":"count","type":"quantitative","scale":{"domain":[-450,240],"nice":false,"zero":false},"axis":null}}},
{"data":{"name":"labels"},"transform":[{"filter":"datum.panel=='A3c'"}],"mark":{"type":"text","fontSize":53,"align":"left","baseline":"alphabetic"},"encoding":{"x":{"datum":4.43,"axis":null},"y":{"field":"series","type":"nominal","scale":{"type":"point","domain":["red","blue","orange","lgreen","dgreen"],"range":[666,224],"padding":0},"axis":null},"text":{"field":"pct"}}},
{"data":{"name":"labels"},"transform":[{"filter":"datum.panel=='A3c' && datum.series=='red'"}],"mark":{"type":"text","fontWeight":"bold","fontSize":68,"align":"left","baseline":"alphabetic"},"encoding":{"x":{"datum":-1.16,"axis":null},"y":{"datum":604,"scale":{"domain":[0,690],"nice":false},"axis":null},"text":{"field":"cmpd"}}},
{"data":{"name":"labels"},"transform":[{"filter":"datum.panel=='A3c' && datum.series=='red'"}],"mark":{"type":"text","fontWeight":"bold","fontSize":70,"align":"center","baseline":"middle"},"encoding":{"x":{"datum":-3.34,"axis":null},"y":{"datum":317,"scale":{"domain":[0,690],"nice":false},"axis":null},"text":{"field":"row"}}}
]},
{"width":688,"height":690,"resolve":{"scale":{"y":"independent"},"axis":{"x":"independent"}},"layer":[
{"data":{"name":"control"},"transform":[{"filter":"datum.series=='red'"}],"mark":{"type":"line","color":"#ff4040"},"encoding":{"x":{"field":"logFL","type":"quantitative","scale":{"domain":[-1.5,6.76],"nice":false,"zero":false},"axis":{"title":null,"orient":"bottom","zindex":1,"grid":false,"labels":false,"domainColor":"black","domainWidth":2.5,"tickColor":"black","tickSize":8,"tickWidth":2,"values":[-1.398,-1.301,-1.222,-1.155,-1.097,-1.046,-0.699,-0.523,-0.398,-0.301,-0.222,-0.155,-0.097,-0.046,0.301,0.477,0.602,0.699,0.778,0.845,0.903,0.954,1.301,1.477,1.602,1.699,1.778,1.845,1.903,1.954,2.301,2.477,2.602,2.699,2.778,2.845,2.903,2.954,3.301,3.477,3.602,3.699,3.778,3.845,3.903,3.954,4.301,4.477,4.602,4.699,4.778,4.845,4.903,4.954,5.301,5.477,5.602,5.699,5.778,5.845,5.903,5.954,6.301,6.477,6.602,6.699]}},"y":{"field":"count","type":"quantitative","scale":{"domain":[0,690],"nice":false,"zero":false},"axis":null}}},
{"data":{"name":"control"},"transform":[{"filter":"datum.series=='blue'"}],"mark":{"type":"line","color":"#2cc8f6"},"encoding":{"x":{"field":"logFL","type":"quantitative","axis":{"title":null,"orient":"bottom","zindex":1,"grid":false,"domain":false,"tickColor":"black","tickSize":18,"tickWidth":4,"values":[-1,0,1,2,3,4,5,6],"labelExpr":"datum.value==-1?'10⁻¹':datum.value==1?'10¹':datum.value==3?'10³':datum.value==5?'10⁵':''","labelFont":"Liberation Sans Narrow, Liberation Sans, DejaVu Sans","labelFontSize":25,"labelColor":"black","labelAlign":"left","labelBaseline":"alphabetic","labelPadding":39,"labelOffset":3,"labelOverlap":false,"labelFlush":false,"labelBound":false}},"y":{"field":"count","type":"quantitative","scale":{"domain":[-111,579],"nice":false,"zero":false},"axis":null}}},
{"data":{"name":"A4e"},"transform":[{"filter":"datum.series=='orange'"}],"mark":{"type":"line","color":"#ffa34d"},"encoding":{"x":{"field":"logFL","type":"quantitative","axis":null},"y":{"field":"count","type":"quantitative","scale":{"domain":[-224,466],"nice":false,"zero":false},"axis":null}}},
{"data":{"name":"A4e"},"transform":[{"filter":"datum.series=='lgreen'"}],"mark":{"type":"line","color":"#6ee845"},"encoding":{"x":{"field":"logFL","type":"quantitative","axis":null},"y":{"field":"count","type":"quantitative","scale":{"domain":[-337,353],"nice":false,"zero":false},"axis":null}}},
{"data":{"name":"A4e"},"transform":[{"filter":"datum.series=='dgreen'"}],"mark":{"type":"line","color":"#4d6c2f"},"encoding":{"x":{"field":"logFL","type":"quantitative","axis":null},"y":{"field":"count","type":"quantitative","scale":{"domain":[-450,240],"nice":false,"zero":false},"axis":null}}},
{"data":{"name":"labels"},"transform":[{"filter":"datum.panel=='A4e'"}],"mark":{"type":"text","fontSize":53,"align":"left","baseline":"alphabetic"},"encoding":{"x":{"datum":4.52,"axis":null},"y":{"field":"series","type":"nominal","scale":{"type":"point","domain":["red","blue","orange","lgreen","dgreen"],"range":[666,224],"padding":0},"axis":null},"text":{"field":"pct"}}},
{"data":{"name":"labels"},"transform":[{"filter":"datum.panel=='A4e' && datum.series=='red'"}],"mark":{"type":"text","fontWeight":"bold","fontSize":68,"align":"left","baseline":"alphabetic"},"encoding":{"x":{"datum":-1.09,"axis":null},"y":{"datum":612,"scale":{"domain":[0,690],"nice":false},"axis":null},"text":{"field":"cmpd"}}}
]},
{"width":688,"height":690,"resolve":{"scale":{"y":"independent"},"axis":{"x":"independent"}},"layer":[
{"data":{"name":"control"},"transform":[{"filter":"datum.series=='red'"}],"mark":{"type":"line","color":"#ff4040"},"encoding":{"x":{"field":"logFL","type":"quantitative","scale":{"domain":[-1.5,6.76],"nice":false,"zero":false},"axis":{"title":null,"orient":"bottom","zindex":1,"grid":false,"labels":false,"domainColor":"black","domainWidth":2.5,"tickColor":"black","tickSize":8,"tickWidth":2,"values":[-1.398,-1.301,-1.222,-1.155,-1.097,-1.046,-0.699,-0.523,-0.398,-0.301,-0.222,-0.155,-0.097,-0.046,0.301,0.477,0.602,0.699,0.778,0.845,0.903,0.954,1.301,1.477,1.602,1.699,1.778,1.845,1.903,1.954,2.301,2.477,2.602,2.699,2.778,2.845,2.903,2.954,3.301,3.477,3.602,3.699,3.778,3.845,3.903,3.954,4.301,4.477,4.602,4.699,4.778,4.845,4.903,4.954,5.301,5.477,5.602,5.699,5.778,5.845,5.903,5.954,6.301,6.477,6.602,6.699]}},"y":{"field":"count","type":"quantitative","scale":{"domain":[0,690],"nice":false,"zero":false},"axis":null}}},
{"data":{"name":"control"},"transform":[{"filter":"datum.series=='blue'"}],"mark":{"type":"line","color":"#2cc8f6"},"encoding":{"x":{"field":"logFL","type":"quantitative","axis":{"title":null,"orient":"bottom","zindex":1,"grid":false,"domain":false,"tickColor":"black","tickSize":18,"tickWidth":4,"values":[-1,0,1,2,3,4,5,6],"labelExpr":"datum.value==-1?'10⁻¹':datum.value==1?'10¹':datum.value==3?'10³':datum.value==5?'10⁵':''","labelFont":"Liberation Sans Narrow, Liberation Sans, DejaVu Sans","labelFontSize":25,"labelColor":"black","labelAlign":"left","labelBaseline":"alphabetic","labelPadding":39,"labelOffset":3,"labelOverlap":false,"labelFlush":false,"labelBound":false}},"y":{"field":"count","type":"quantitative","scale":{"domain":[-111,579],"nice":false,"zero":false},"axis":null}}},
{"data":{"name":"A5b"},"transform":[{"filter":"datum.series=='orange'"}],"mark":{"type":"line","color":"#ffa34d"},"encoding":{"x":{"field":"logFL","type":"quantitative","axis":null},"y":{"field":"count","type":"quantitative","scale":{"domain":[-224,466],"nice":false,"zero":false},"axis":null}}},
{"data":{"name":"A5b"},"transform":[{"filter":"datum.series=='lgreen'"}],"mark":{"type":"line","color":"#6ee845"},"encoding":{"x":{"field":"logFL","type":"quantitative","axis":null},"y":{"field":"count","type":"quantitative","scale":{"domain":[-337,353],"nice":false,"zero":false},"axis":null}}},
{"data":{"name":"A5b"},"transform":[{"filter":"datum.series=='dgreen'"}],"mark":{"type":"line","color":"#4d6c2f"},"encoding":{"x":{"field":"logFL","type":"quantitative","axis":null},"y":{"field":"count","type":"quantitative","scale":{"domain":[-450,240],"nice":false,"zero":false},"axis":null}}},
{"data":{"name":"labels"},"transform":[{"filter":"datum.panel=='A5b'"}],"mark":{"type":"text","fontSize":53,"align":"left","baseline":"alphabetic"},"encoding":{"x":{"datum":4.26,"axis":null},"y":{"field":"series","type":"nominal","scale":{"type":"point","domain":["red","blue","orange","lgreen","dgreen"],"range":[666,213],"padding":0},"axis":null},"text":{"field":"pct"}}},
{"data":{"name":"labels"},"transform":[{"filter":"datum.panel=='A5b' && datum.series=='red'"}],"mark":{"type":"text","fontWeight":"bold","fontSize":68,"align":"left","baseline":"alphabetic"},"encoding":{"x":{"datum":-1.22,"axis":null},"y":{"datum":612,"scale":{"domain":[0,690],"nice":false},"axis":null},"text":{"field":"cmpd"}}}
]},
{"width":688,"height":690,"resolve":{"scale":{"y":"independent"},"axis":{"x":"independent"}},"layer":[
{"data":{"name":"control"},"transform":[{"filter":"datum.series=='red'"}],"mark":{"type":"line","color":"#ff4040"},"encoding":{"x":{"field":"logFL","type":"quantitative","scale":{"domain":[-1.5,6.76],"nice":false,"zero":false},"axis":{"title":null,"orient":"bottom","zindex":1,"grid":false,"labels":false,"domainColor":"black","domainWidth":2.5,"tickColor":"black","tickSize":8,"tickWidth":2,"values":[-1.398,-1.301,-1.222,-1.155,-1.097,-1.046,-0.699,-0.523,-0.398,-0.301,-0.222,-0.155,-0.097,-0.046,0.301,0.477,0.602,0.699,0.778,0.845,0.903,0.954,1.301,1.477,1.602,1.699,1.778,1.845,1.903,1.954,2.301,2.477,2.602,2.699,2.778,2.845,2.903,2.954,3.301,3.477,3.602,3.699,3.778,3.845,3.903,3.954,4.301,4.477,4.602,4.699,4.778,4.845,4.903,4.954,5.301,5.477,5.602,5.699,5.778,5.845,5.903,5.954,6.301,6.477,6.602,6.699]}},"y":{"field":"count","type":"quantitative","scale":{"domain":[0,690],"nice":false,"zero":false},"axis":null}}},
{"data":{"name":"control"},"transform":[{"filter":"datum.series=='blue'"}],"mark":{"type":"line","color":"#2cc8f6"},"encoding":{"x":{"field":"logFL","type":"quantitative","axis":{"title":null,"orient":"bottom","zindex":1,"grid":false,"domain":false,"tickColor":"black","tickSize":18,"tickWidth":4,"values":[-1,0,1,2,3,4,5,6],"labelExpr":"datum.value==-1?'10⁻¹':datum.value==1?'10¹':datum.value==3?'10³':datum.value==5?'10⁵':''","labelFont":"Liberation Sans Narrow, Liberation Sans, DejaVu Sans","labelFontSize":25,"labelColor":"black","labelAlign":"left","labelBaseline":"alphabetic","labelPadding":39,"labelOffset":3,"labelOverlap":false,"labelFlush":false,"labelBound":false}},"y":{"field":"count","type":"quantitative","scale":{"domain":[-111,579],"nice":false,"zero":false},"axis":null}}},
{"data":{"name":"B3c"},"transform":[{"filter":"datum.series=='orange'"}],"mark":{"type":"line","color":"#ffa34d"},"encoding":{"x":{"field":"logFL","type":"quantitative","axis":null},"y":{"field":"count","type":"quantitative","scale":{"domain":[-224,466],"nice":false,"zero":false},"axis":null}}},
{"data":{"name":"B3c"},"transform":[{"filter":"datum.series=='lgreen'"}],"mark":{"type":"line","color":"#6ee845"},"encoding":{"x":{"field":"logFL","type":"quantitative","axis":null},"y":{"field":"count","type":"quantitative","scale":{"domain":[-337,353],"nice":false,"zero":false},"axis":null}}},
{"data":{"name":"B3c"},"transform":[{"filter":"datum.series=='dgreen'"}],"mark":{"type":"line","color":"#4d6c2f"},"encoding":{"x":{"field":"logFL","type":"quantitative","axis":null},"y":{"field":"count","type":"quantitative","scale":{"domain":[-450,240],"nice":false,"zero":false},"axis":null}}},
{"data":{"name":"labels"},"transform":[{"filter":"datum.panel=='B3c'"}],"mark":{"type":"text","fontSize":53,"align":"left","baseline":"alphabetic"},"encoding":{"x":{"datum":4.43,"axis":null},"y":{"field":"series","type":"nominal","scale":{"type":"point","domain":["red","blue","orange","lgreen","dgreen"],"range":[676,228],"padding":0},"axis":null},"text":{"field":"pct"}}},
{"data":{"name":"labels"},"transform":[{"filter":"datum.panel=='B3c' && datum.series=='red'"}],"mark":{"type":"text","fontWeight":"bold","fontSize":68,"align":"left","baseline":"alphabetic"},"encoding":{"x":{"datum":-1.16,"axis":null},"y":{"datum":601,"scale":{"domain":[0,690],"nice":false},"axis":null},"text":{"field":"cmpd"}}},
{"data":{"name":"labels"},"transform":[{"filter":"datum.panel=='B3c' && datum.series=='red'"}],"mark":{"type":"text","fontWeight":"bold","fontSize":70,"align":"center","baseline":"middle"},"encoding":{"x":{"datum":-3.34,"axis":null},"y":{"datum":294,"scale":{"domain":[0,690],"nice":false},"axis":null},"text":{"field":"row"}}}
]},
{"width":688,"height":690,"resolve":{"scale":{"y":"independent"},"axis":{"x":"independent"}},"layer":[
{"data":{"name":"control"},"transform":[{"filter":"datum.series=='red'"}],"mark":{"type":"line","color":"#ff4040"},"encoding":{"x":{"field":"logFL","type":"quantitative","scale":{"domain":[-1.5,6.76],"nice":false,"zero":false},"axis":{"title":null,"orient":"bottom","zindex":1,"grid":false,"labels":false,"domainColor":"black","domainWidth":2.5,"tickColor":"black","tickSize":8,"tickWidth":2,"values":[-1.398,-1.301,-1.222,-1.155,-1.097,-1.046,-0.699,-0.523,-0.398,-0.301,-0.222,-0.155,-0.097,-0.046,0.301,0.477,0.602,0.699,0.778,0.845,0.903,0.954,1.301,1.477,1.602,1.699,1.778,1.845,1.903,1.954,2.301,2.477,2.602,2.699,2.778,2.845,2.903,2.954,3.301,3.477,3.602,3.699,3.778,3.845,3.903,3.954,4.301,4.477,4.602,4.699,4.778,4.845,4.903,4.954,5.301,5.477,5.602,5.699,5.778,5.845,5.903,5.954,6.301,6.477,6.602,6.699]}},"y":{"field":"count","type":"quantitative","scale":{"domain":[0,690],"nice":false,"zero":false},"axis":null}}},
{"data":{"name":"control"},"transform":[{"filter":"datum.series=='blue'"}],"mark":{"type":"line","color":"#2cc8f6"},"encoding":{"x":{"field":"logFL","type":"quantitative","axis":{"title":null,"orient":"bottom","zindex":1,"grid":false,"domain":false,"tickColor":"black","tickSize":18,"tickWidth":4,"values":[-1,0,1,2,3,4,5,6],"labelExpr":"datum.value==-1?'10⁻¹':datum.value==1?'10¹':datum.value==3?'10³':datum.value==5?'10⁵':''","labelFont":"Liberation Sans Narrow, Liberation Sans, DejaVu Sans","labelFontSize":25,"labelColor":"black","labelAlign":"left","labelBaseline":"alphabetic","labelPadding":39,"labelOffset":3,"labelOverlap":false,"labelFlush":false,"labelBound":false}},"y":{"field":"count","type":"quantitative","scale":{"domain":[-111,579],"nice":false,"zero":false},"axis":null}}},
{"data":{"name":"B4e"},"transform":[{"filter":"datum.series=='orange'"}],"mark":{"type":"line","color":"#ffa34d"},"encoding":{"x":{"field":"logFL","type":"quantitative","axis":null},"y":{"field":"count","type":"quantitative","scale":{"domain":[-224,466],"nice":false,"zero":false},"axis":null}}},
{"data":{"name":"B4e"},"transform":[{"filter":"datum.series=='lgreen'"}],"mark":{"type":"line","color":"#6ee845"},"encoding":{"x":{"field":"logFL","type":"quantitative","axis":null},"y":{"field":"count","type":"quantitative","scale":{"domain":[-337,353],"nice":false,"zero":false},"axis":null}}},
{"data":{"name":"B4e"},"transform":[{"filter":"datum.series=='dgreen'"}],"mark":{"type":"line","color":"#4d6c2f"},"encoding":{"x":{"field":"logFL","type":"quantitative","axis":null},"y":{"field":"count","type":"quantitative","scale":{"domain":[-450,240],"nice":false,"zero":false},"axis":null}}},
{"data":{"name":"labels"},"transform":[{"filter":"datum.panel=='B4e'"}],"mark":{"type":"text","fontSize":53,"align":"left","baseline":"alphabetic"},"encoding":{"x":{"datum":4.52,"axis":null},"y":{"field":"series","type":"nominal","scale":{"type":"point","domain":["red","blue","orange","lgreen","dgreen"],"range":[676,228],"padding":0},"axis":null},"text":{"field":"pct"}}},
{"data":{"name":"labels"},"transform":[{"filter":"datum.panel=='B4e' && datum.series=='red'"}],"mark":{"type":"text","fontWeight":"bold","fontSize":68,"align":"left","baseline":"alphabetic"},"encoding":{"x":{"datum":-1.09,"axis":null},"y":{"datum":600,"scale":{"domain":[0,690],"nice":false},"axis":null},"text":{"field":"cmpd"}}}
]},
{"width":688,"height":690,"resolve":{"scale":{"y":"independent"},"axis":{"x":"independent"}},"layer":[
{"data":{"name":"control"},"transform":[{"filter":"datum.series=='red'"}],"mark":{"type":"line","color":"#ff4040"},"encoding":{"x":{"field":"logFL","type":"quantitative","scale":{"domain":[-1.5,6.76],"nice":false,"zero":false},"axis":{"title":null,"orient":"bottom","zindex":1,"grid":false,"labels":false,"domainColor":"black","domainWidth":2.5,"tickColor":"black","tickSize":8,"tickWidth":2,"values":[-1.398,-1.301,-1.222,-1.155,-1.097,-1.046,-0.699,-0.523,-0.398,-0.301,-0.222,-0.155,-0.097,-0.046,0.301,0.477,0.602,0.699,0.778,0.845,0.903,0.954,1.301,1.477,1.602,1.699,1.778,1.845,1.903,1.954,2.301,2.477,2.602,2.699,2.778,2.845,2.903,2.954,3.301,3.477,3.602,3.699,3.778,3.845,3.903,3.954,4.301,4.477,4.602,4.699,4.778,4.845,4.903,4.954,5.301,5.477,5.602,5.699,5.778,5.845,5.903,5.954,6.301,6.477,6.602,6.699]}},"y":{"field":"count","type":"quantitative","scale":{"domain":[0,690],"nice":false,"zero":false},"axis":null}}},
{"data":{"name":"control"},"transform":[{"filter":"datum.series=='blue'"}],"mark":{"type":"line","color":"#2cc8f6"},"encoding":{"x":{"field":"logFL","type":"quantitative","axis":{"title":null,"orient":"bottom","zindex":1,"grid":false,"domain":false,"tickColor":"black","tickSize":18,"tickWidth":4,"values":[-1,0,1,2,3,4,5,6],"labelExpr":"datum.value==-1?'10⁻¹':datum.value==1?'10¹':datum.value==3?'10³':datum.value==5?'10⁵':''","labelFont":"Liberation Sans Narrow, Liberation Sans, DejaVu Sans","labelFontSize":25,"labelColor":"black","labelAlign":"left","labelBaseline":"alphabetic","labelPadding":39,"labelOffset":3,"labelOverlap":false,"labelFlush":false,"labelBound":false}},"y":{"field":"count","type":"quantitative","scale":{"domain":[-111,579],"nice":false,"zero":false},"axis":null}}},
{"data":{"name":"B5b"},"transform":[{"filter":"datum.series=='orange'"}],"mark":{"type":"line","color":"#ffa34d"},"encoding":{"x":{"field":"logFL","type":"quantitative","axis":null},"y":{"field":"count","type":"quantitative","scale":{"domain":[-224,466],"nice":false,"zero":false},"axis":null}}},
{"data":{"name":"B5b"},"transform":[{"filter":"datum.series=='lgreen'"}],"mark":{"type":"line","color":"#6ee845"},"encoding":{"x":{"field":"logFL","type":"quantitative","axis":null},"y":{"field":"count","type":"quantitative","scale":{"domain":[-337,353],"nice":false,"zero":false},"axis":null}}},
{"data":{"name":"B5b"},"transform":[{"filter":"datum.series=='dgreen'"}],"mark":{"type":"line","color":"#4d6c2f"},"encoding":{"x":{"field":"logFL","type":"quantitative","axis":null},"y":{"field":"count","type":"quantitative","scale":{"domain":[-450,240],"nice":false,"zero":false},"axis":null}}},
{"data":{"name":"labels"},"transform":[{"filter":"datum.panel=='B5b'"}],"mark":{"type":"text","fontSize":53,"align":"left","baseline":"alphabetic"},"encoding":{"x":{"datum":4.38,"axis":null},"y":{"field":"series","type":"nominal","scale":{"type":"point","domain":["red","blue","orange","lgreen","dgreen"],"range":[676,228],"padding":0},"axis":null},"text":{"field":"pct"}}},
{"data":{"name":"labels"},"transform":[{"filter":"datum.panel=='B5b' && datum.series=='red'"}],"mark":{"type":"text","fontWeight":"bold","fontSize":68,"align":"left","baseline":"alphabetic"},"encoding":{"x":{"datum":-1.07,"axis":null},"y":{"datum":600,"scale":{"domain":[0,690],"nice":false},"axis":null},"text":{"field":"cmpd"}}}
]},
{"width":688,"height":690,"resolve":{"scale":{"y":"independent"},"axis":{"x":"independent"}},"layer":[
{"data":{"name":"control"},"transform":[{"filter":"datum.series=='red'"}],"mark":{"type":"line","color":"#ff4040"},"encoding":{"x":{"field":"logFL","type":"quantitative","scale":{"domain":[-1.5,6.76],"nice":false,"zero":false},"axis":{"title":null,"orient":"bottom","zindex":1,"grid":false,"labels":false,"domainColor":"black","domainWidth":2.5,"tickColor":"black","tickSize":8,"tickWidth":2,"values":[-1.398,-1.301,-1.222,-1.155,-1.097,-1.046,-0.699,-0.523,-0.398,-0.301,-0.222,-0.155,-0.097,-0.046,0.301,0.477,0.602,0.699,0.778,0.845,0.903,0.954,1.301,1.477,1.602,1.699,1.778,1.845,1.903,1.954,2.301,2.477,2.602,2.699,2.778,2.845,2.903,2.954,3.301,3.477,3.602,3.699,3.778,3.845,3.903,3.954,4.301,4.477,4.602,4.699,4.778,4.845,4.903,4.954,5.301,5.477,5.602,5.699,5.778,5.845,5.903,5.954,6.301,6.477,6.602,6.699]}},"y":{"field":"count","type":"quantitative","scale":{"domain":[0,690],"nice":false,"zero":false},"axis":null}}},
{"data":{"name":"control"},"transform":[{"filter":"datum.series=='blue'"}],"mark":{"type":"line","color":"#2cc8f6"},"encoding":{"x":{"field":"logFL","type":"quantitative","axis":{"title":null,"orient":"bottom","zindex":1,"grid":false,"domain":false,"tickColor":"black","tickSize":18,"tickWidth":4,"values":[-1,0,1,2,3,4,5,6],"labelExpr":"datum.value==-1?'10⁻¹':datum.value==1?'10¹':datum.value==3?'10³':datum.value==5?'10⁵':''","labelFont":"Liberation Sans Narrow, Liberation Sans, DejaVu Sans","labelFontSize":25,"labelColor":"black","labelAlign":"left","labelBaseline":"alphabetic","labelPadding":39,"labelOffset":3,"labelOverlap":false,"labelFlush":false,"labelBound":false}},"y":{"field":"count","type":"quantitative","scale":{"domain":[-111,579],"nice":false,"zero":false},"axis":null}}},
{"data":{"name":"C3c"},"transform":[{"filter":"datum.series=='orange'"}],"mark":{"type":"line","color":"#ffa34d"},"encoding":{"x":{"field":"logFL","type":"quantitative","axis":null},"y":{"field":"count","type":"quantitative","scale":{"domain":[-224,466],"nice":false,"zero":false},"axis":null}}},
{"data":{"name":"C3c"},"transform":[{"filter":"datum.series=='lgreen'"}],"mark":{"type":"line","color":"#6ee845"},"encoding":{"x":{"field":"logFL","type":"quantitative","axis":null},"y":{"field":"count","type":"quantitative","scale":{"domain":[-337,353],"nice":false,"zero":false},"axis":null}}},
{"data":{"name":"C3c"},"transform":[{"filter":"datum.series=='dgreen'"}],"mark":{"type":"line","color":"#4d6c2f"},"encoding":{"x":{"field":"logFL","type":"quantitative","axis":null},"y":{"field":"count","type":"quantitative","scale":{"domain":[-450,240],"nice":false,"zero":false},"axis":null}}},
{"data":{"name":"labels"},"transform":[{"filter":"datum.panel=='C3c'"}],"mark":{"type":"text","fontSize":53,"align":"left","baseline":"alphabetic"},"encoding":{"x":{"datum":4.43,"axis":null},"y":{"field":"series","type":"nominal","scale":{"type":"point","domain":["red","blue","orange","lgreen","dgreen"],"range":[653,206],"padding":0},"axis":null},"text":{"field":"pct"}}},
{"data":{"name":"labels"},"transform":[{"filter":"datum.panel=='C3c' && datum.series=='red'"}],"mark":{"type":"text","fontWeight":"bold","fontSize":68,"align":"left","baseline":"alphabetic"},"encoding":{"x":{"datum":-1.16,"axis":null},"y":{"datum":623,"scale":{"domain":[0,690],"nice":false},"axis":null},"text":{"field":"cmpd"}}},
{"data":{"name":"labels"},"transform":[{"filter":"datum.panel=='C3c' && datum.series=='red'"}],"mark":{"type":"text","fontWeight":"bold","fontSize":70,"align":"center","baseline":"middle"},"encoding":{"x":{"datum":-3.34,"axis":null},"y":{"datum":282,"scale":{"domain":[0,690],"nice":false},"axis":null},"text":{"field":"row"}}}
]},
{"width":688,"height":690,"resolve":{"scale":{"y":"independent"},"axis":{"x":"independent"}},"layer":[
{"data":{"name":"control"},"transform":[{"filter":"datum.series=='red'"}],"mark":{"type":"line","color":"#ff4040"},"encoding":{"x":{"field":"logFL","type":"quantitative","scale":{"domain":[-1.5,6.76],"nice":false,"zero":false},"axis":{"title":null,"orient":"bottom","zindex":1,"grid":false,"labels":false,"domainColor":"black","domainWidth":2.5,"tickColor":"black","tickSize":8,"tickWidth":2,"values":[-1.398,-1.301,-1.222,-1.155,-1.097,-1.046,-0.699,-0.523,-0.398,-0.301,-0.222,-0.155,-0.097,-0.046,0.301,0.477,0.602,0.699,0.778,0.845,0.903,0.954,1.301,1.477,1.602,1.699,1.778,1.845,1.903,1.954,2.301,2.477,2.602,2.699,2.778,2.845,2.903,2.954,3.301,3.477,3.602,3.699,3.778,3.845,3.903,3.954,4.301,4.477,4.602,4.699,4.778,4.845,4.903,4.954,5.301,5.477,5.602,5.699,5.778,5.845,5.903,5.954,6.301,6.477,6.602,6.699]}},"y":{"field":"count","type":"quantitative","scale":{"domain":[0,690],"nice":false,"zero":false},"axis":null}}},
{"data":{"name":"control"},"transform":[{"filter":"datum.series=='blue'"}],"mark":{"type":"line","color":"#2cc8f6"},"encoding":{"x":{"field":"logFL","type":"quantitative","axis":{"title":null,"orient":"bottom","zindex":1,"grid":false,"domain":false,"tickColor":"black","tickSize":18,"tickWidth":4,"values":[-1,0,1,2,3,4,5,6],"labelExpr":"datum.value==-1?'10⁻¹':datum.value==1?'10¹':datum.value==3?'10³':datum.value==5?'10⁵':''","labelFont":"Liberation Sans Narrow, Liberation Sans, DejaVu Sans","labelFontSize":25,"labelColor":"black","labelAlign":"left","labelBaseline":"alphabetic","labelPadding":39,"labelOffset":3,"labelOverlap":false,"labelFlush":false,"labelBound":false}},"y":{"field":"count","type":"quantitative","scale":{"domain":[-111,579],"nice":false,"zero":false},"axis":null}}},
{"data":{"name":"C4e"},"transform":[{"filter":"datum.series=='orange'"}],"mark":{"type":"line","color":"#ffa34d"},"encoding":{"x":{"field":"logFL","type":"quantitative","axis":null},"y":{"field":"count","type":"quantitative","scale":{"domain":[-224,466],"nice":false,"zero":false},"axis":null}}},
{"data":{"name":"C4e"},"transform":[{"filter":"datum.series=='lgreen'"}],"mark":{"type":"line","color":"#6ee845"},"encoding":{"x":{"field":"logFL","type":"quantitative","axis":null},"y":{"field":"count","type":"quantitative","scale":{"domain":[-337,353],"nice":false,"zero":false},"axis":null}}},
{"data":{"name":"C4e"},"transform":[{"filter":"datum.series=='dgreen'"}],"mark":{"type":"line","color":"#4d6c2f"},"encoding":{"x":{"field":"logFL","type":"quantitative","axis":null},"y":{"field":"count","type":"quantitative","scale":{"domain":[-450,240],"nice":false,"zero":false},"axis":null}}},
{"data":{"name":"labels"},"transform":[{"filter":"datum.panel=='C4e'"}],"mark":{"type":"text","fontSize":53,"align":"left","baseline":"alphabetic"},"encoding":{"x":{"datum":4.39,"axis":null},"y":{"field":"series","type":"nominal","scale":{"type":"point","domain":["red","blue","orange","lgreen","dgreen"],"range":[653,206],"padding":0},"axis":null},"text":{"field":"pct"}}},
{"data":{"name":"labels"},"transform":[{"filter":"datum.panel=='C4e' && datum.series=='red'"}],"mark":{"type":"text","fontWeight":"bold","fontSize":68,"align":"left","baseline":"alphabetic"},"encoding":{"x":{"datum":-1.25,"axis":null},"y":{"datum":623,"scale":{"domain":[0,690],"nice":false},"axis":null},"text":{"field":"cmpd"}}}
]},
{"width":688,"height":690,"resolve":{"scale":{"y":"independent"},"axis":{"x":"independent"}},"layer":[
{"data":{"name":"control"},"transform":[{"filter":"datum.series=='red'"}],"mark":{"type":"line","color":"#ff4040"},"encoding":{"x":{"field":"logFL","type":"quantitative","scale":{"domain":[-1.5,6.76],"nice":false,"zero":false},"axis":{"title":null,"orient":"bottom","zindex":1,"grid":false,"labels":false,"domainColor":"black","domainWidth":2.5,"tickColor":"black","tickSize":8,"tickWidth":2,"values":[-1.398,-1.301,-1.222,-1.155,-1.097,-1.046,-0.699,-0.523,-0.398,-0.301,-0.222,-0.155,-0.097,-0.046,0.301,0.477,0.602,0.699,0.778,0.845,0.903,0.954,1.301,1.477,1.602,1.699,1.778,1.845,1.903,1.954,2.301,2.477,2.602,2.699,2.778,2.845,2.903,2.954,3.301,3.477,3.602,3.699,3.778,3.845,3.903,3.954,4.301,4.477,4.602,4.699,4.778,4.845,4.903,4.954,5.301,5.477,5.602,5.699,5.778,5.845,5.903,5.954,6.301,6.477,6.602,6.699]}},"y":{"field":"count","type":"quantitative","scale":{"domain":[0,690],"nice":false,"zero":false},"axis":null}}},
{"data":{"name":"control"},"transform":[{"filter":"datum.series=='blue'"}],"mark":{"type":"line","color":"#2cc8f6"},"encoding":{"x":{"field":"logFL","type":"quantitative","axis":{"title":null,"orient":"bottom","zindex":1,"grid":false,"domain":false,"tickColor":"black","tickSize":18,"tickWidth":4,"values":[-1,0,1,2,3,4,5,6],"labelExpr":"datum.value==-1?'10⁻¹':datum.value==1?'10¹':datum.value==3?'10³':datum.value==5?'10⁵':''","labelFont":"Liberation Sans Narrow, Liberation Sans, DejaVu Sans","labelFontSize":25,"labelColor":"black","labelAlign":"left","labelBaseline":"alphabetic","labelPadding":39,"labelOffset":3,"labelOverlap":false,"labelFlush":false,"labelBound":false}},"y":{"field":"count","type":"quantitative","scale":{"domain":[-111,579],"nice":false,"zero":false},"axis":null}}},
{"data":{"name":"C5b"},"transform":[{"filter":"datum.series=='orange'"}],"mark":{"type":"line","color":"#ffa34d"},"encoding":{"x":{"field":"logFL","type":"quantitative","axis":null},"y":{"field":"count","type":"quantitative","scale":{"domain":[-224,466],"nice":false,"zero":false},"axis":null}}},
{"data":{"name":"C5b"},"transform":[{"filter":"datum.series=='lgreen'"}],"mark":{"type":"line","color":"#6ee845"},"encoding":{"x":{"field":"logFL","type":"quantitative","axis":null},"y":{"field":"count","type":"quantitative","scale":{"domain":[-337,353],"nice":false,"zero":false},"axis":null}}},
{"data":{"name":"C5b"},"transform":[{"filter":"datum.series=='dgreen'"}],"mark":{"type":"line","color":"#4d6c2f"},"encoding":{"x":{"field":"logFL","type":"quantitative","axis":null},"y":{"field":"count","type":"quantitative","scale":{"domain":[-450,240],"nice":false,"zero":false},"axis":null}}},
{"data":{"name":"labels"},"transform":[{"filter":"datum.panel=='C5b'"}],"mark":{"type":"text","fontSize":53,"align":"left","baseline":"alphabetic"},"encoding":{"x":{"datum":4.25,"axis":null},"y":{"field":"series","type":"nominal","scale":{"type":"point","domain":["red","blue","orange","lgreen","dgreen"],"range":[653,206],"padding":0},"axis":null},"text":{"field":"pct"}}},
{"data":{"name":"labels"},"transform":[{"filter":"datum.panel=='C5b' && datum.series=='red'"}],"mark":{"type":"text","fontWeight":"bold","fontSize":68,"align":"left","baseline":"alphabetic"},"encoding":{"x":{"datum":-1.22,"axis":null},"y":{"datum":623,"scale":{"domain":[0,690],"nice":false},"axis":null},"text":{"field":"cmpd"}}}
]}
]
}
